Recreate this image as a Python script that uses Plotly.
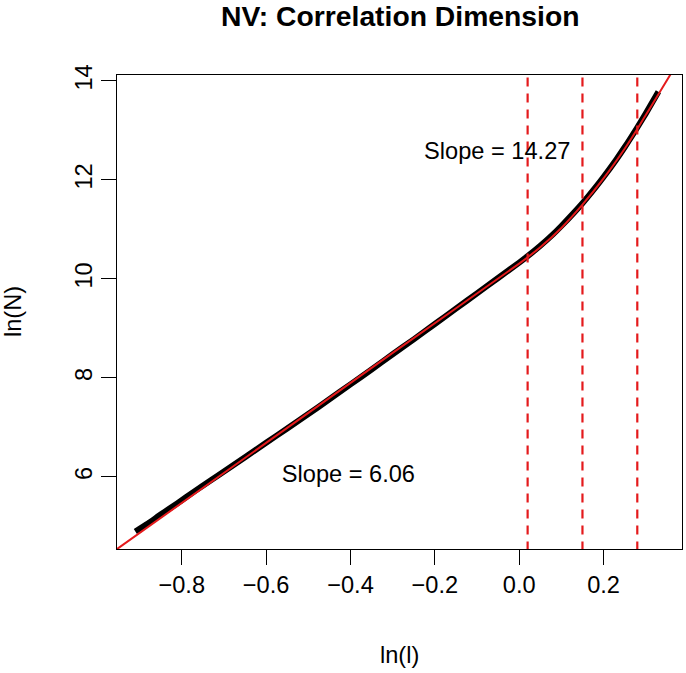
import plotly.graph_objects as go

# Observed curve ln(N) vs ln(l)
ln_l = [-0.910, -0.88, -0.85, -0.81, -0.77, -0.73, -0.70, -0.65, -0.60, -0.55, -0.50,
        -0.45, -0.40, -0.35, -0.30, -0.25, -0.20, -0.15, -0.10, -0.05, 0.00, 0.02,
        0.05, 0.08, 0.10, 0.13, 0.15, 0.18, 0.20, 0.23, 0.25, 0.28, 0.30, 0.33]
ln_N = [4.90, 5.06, 5.24, 5.47, 5.71, 5.94, 6.11, 6.40, 6.69, 6.98, 7.27,
        7.57, 7.87, 8.17, 8.48, 8.78, 9.09, 9.40, 9.71, 10.02, 10.33, 10.46,
        10.67, 10.90, 11.07, 11.34, 11.53, 11.84, 12.06, 12.41, 12.66, 13.06, 13.34, 13.78]

# Fitted (red) line
fit_x = [-0.98, -0.60, -0.30, 0.00, 0.05, 0.10, 0.15, 0.20, 0.25, 0.28, 0.31, 0.36, 0.38]
fit_y = [4.383, 6.688, 8.506, 10.31, 10.64, 11.03, 11.50, 12.03, 12.63, 13.03, 13.45, 14.15, 14.45]

# Breakpoints (dashed lines)
breaks = [0.02, 0.15, 0.28]

# Slope labels
label_text = ["Slope = 6.06", "Slope = 14.27"]
label_x = [-0.405, -0.052]
label_y = [6.02, 12.55]

x_ticks = [-0.8, -0.6, -0.4, -0.2, 0.0, 0.2]
x_tick_text = ["\u22120.8", "\u22120.6", "\u22120.4", "\u22120.2", "0.0", "0.2"]
y_ticks = [6, 8, 10, 12, 14]

x_range = [-0.9535, 0.386]
y_range = [4.545, 14.12]

FONT = "Liberation Sans, Arial, Helvetica, sans-serif"

fig = go.Figure()
fig.add_trace(go.Scatter(x=ln_l, y=ln_N, mode="lines",
                         line=dict(color="black", width=6, shape="spline", smoothing=0.6),
                         showlegend=False))
fig.add_trace(go.Scatter(x=fit_x, y=fit_y, mode="lines",
                         line=dict(color="#e41a1c", width=2, shape="spline", smoothing=0.6),
                         showlegend=False))
for b in breaks:
    fig.add_trace(go.Scatter(x=[b, b], y=[y_range[0] - 1, y_range[1] + 1], mode="lines",
                             line=dict(color="#e41a1c", width=2.2, dash="9px,7px"),
                             showlegend=False))

fig.add_trace(go.Scatter(x=label_x, y=label_y, mode="text", text=label_text,
                         textfont=dict(family=FONT, size=23.6, color="black"),
                         textposition="middle center", showlegend=False))

W, H = 686, 673
L, R, T, B = 117, 4, 75, 124
pw, ph = W - L - R, H - T - B

fig.update_layout(
    width=W, height=H,
    margin=dict(l=L, r=R, t=T, b=B),
    paper_bgcolor="white", plot_bgcolor="white",
    font=dict(family=FONT, size=23.6, color="black"),
    hovermode=False,
    xaxis=dict(range=x_range, tickvals=x_ticks, ticktext=x_tick_text,
               showgrid=False, zeroline=False, showline=True, linecolor="black",
               linewidth=1, mirror=True, ticks="outside", ticklen=15, tickwidth=1,
               tickcolor="black", tickfont=dict(size=23.6)),
    yaxis=dict(range=y_range, tickvals=y_ticks, tickangle=-90,
               showgrid=False, zeroline=False, showline=True, linecolor="black",
               linewidth=1, mirror=True, ticks="outside", ticklen=15, tickwidth=1,
               tickcolor="black", tickfont=dict(size=23.6)),
    annotations=[
        dict(text="<b>NV: Correlation Dimension</b>", xref="paper", yref="paper",
             x=0.5, y=1 + (T - 16) / ph, xanchor="center", yanchor="middle",
             showarrow=False, font=dict(size=28.3)),
        dict(text="ln(l)", xref="paper", yref="paper", x=0.5, y=-(655 - (H - B)) / ph,
             xanchor="center", yanchor="middle", showarrow=False, font=dict(size=23.6)),
        dict(text="ln(N)", xref="paper", yref="paper", x=-(L - 13) / pw, y=0.5,
             xanchor="center", yanchor="middle", textangle=-90, showarrow=False,
             font=dict(size=23.6)),
    ],
)

fig.write_html("out.html", config={"displayModeBar": False, "staticPlot": True},
               post_script="document.body.style.margin='0';document.body.style.overflow='hidden';")
